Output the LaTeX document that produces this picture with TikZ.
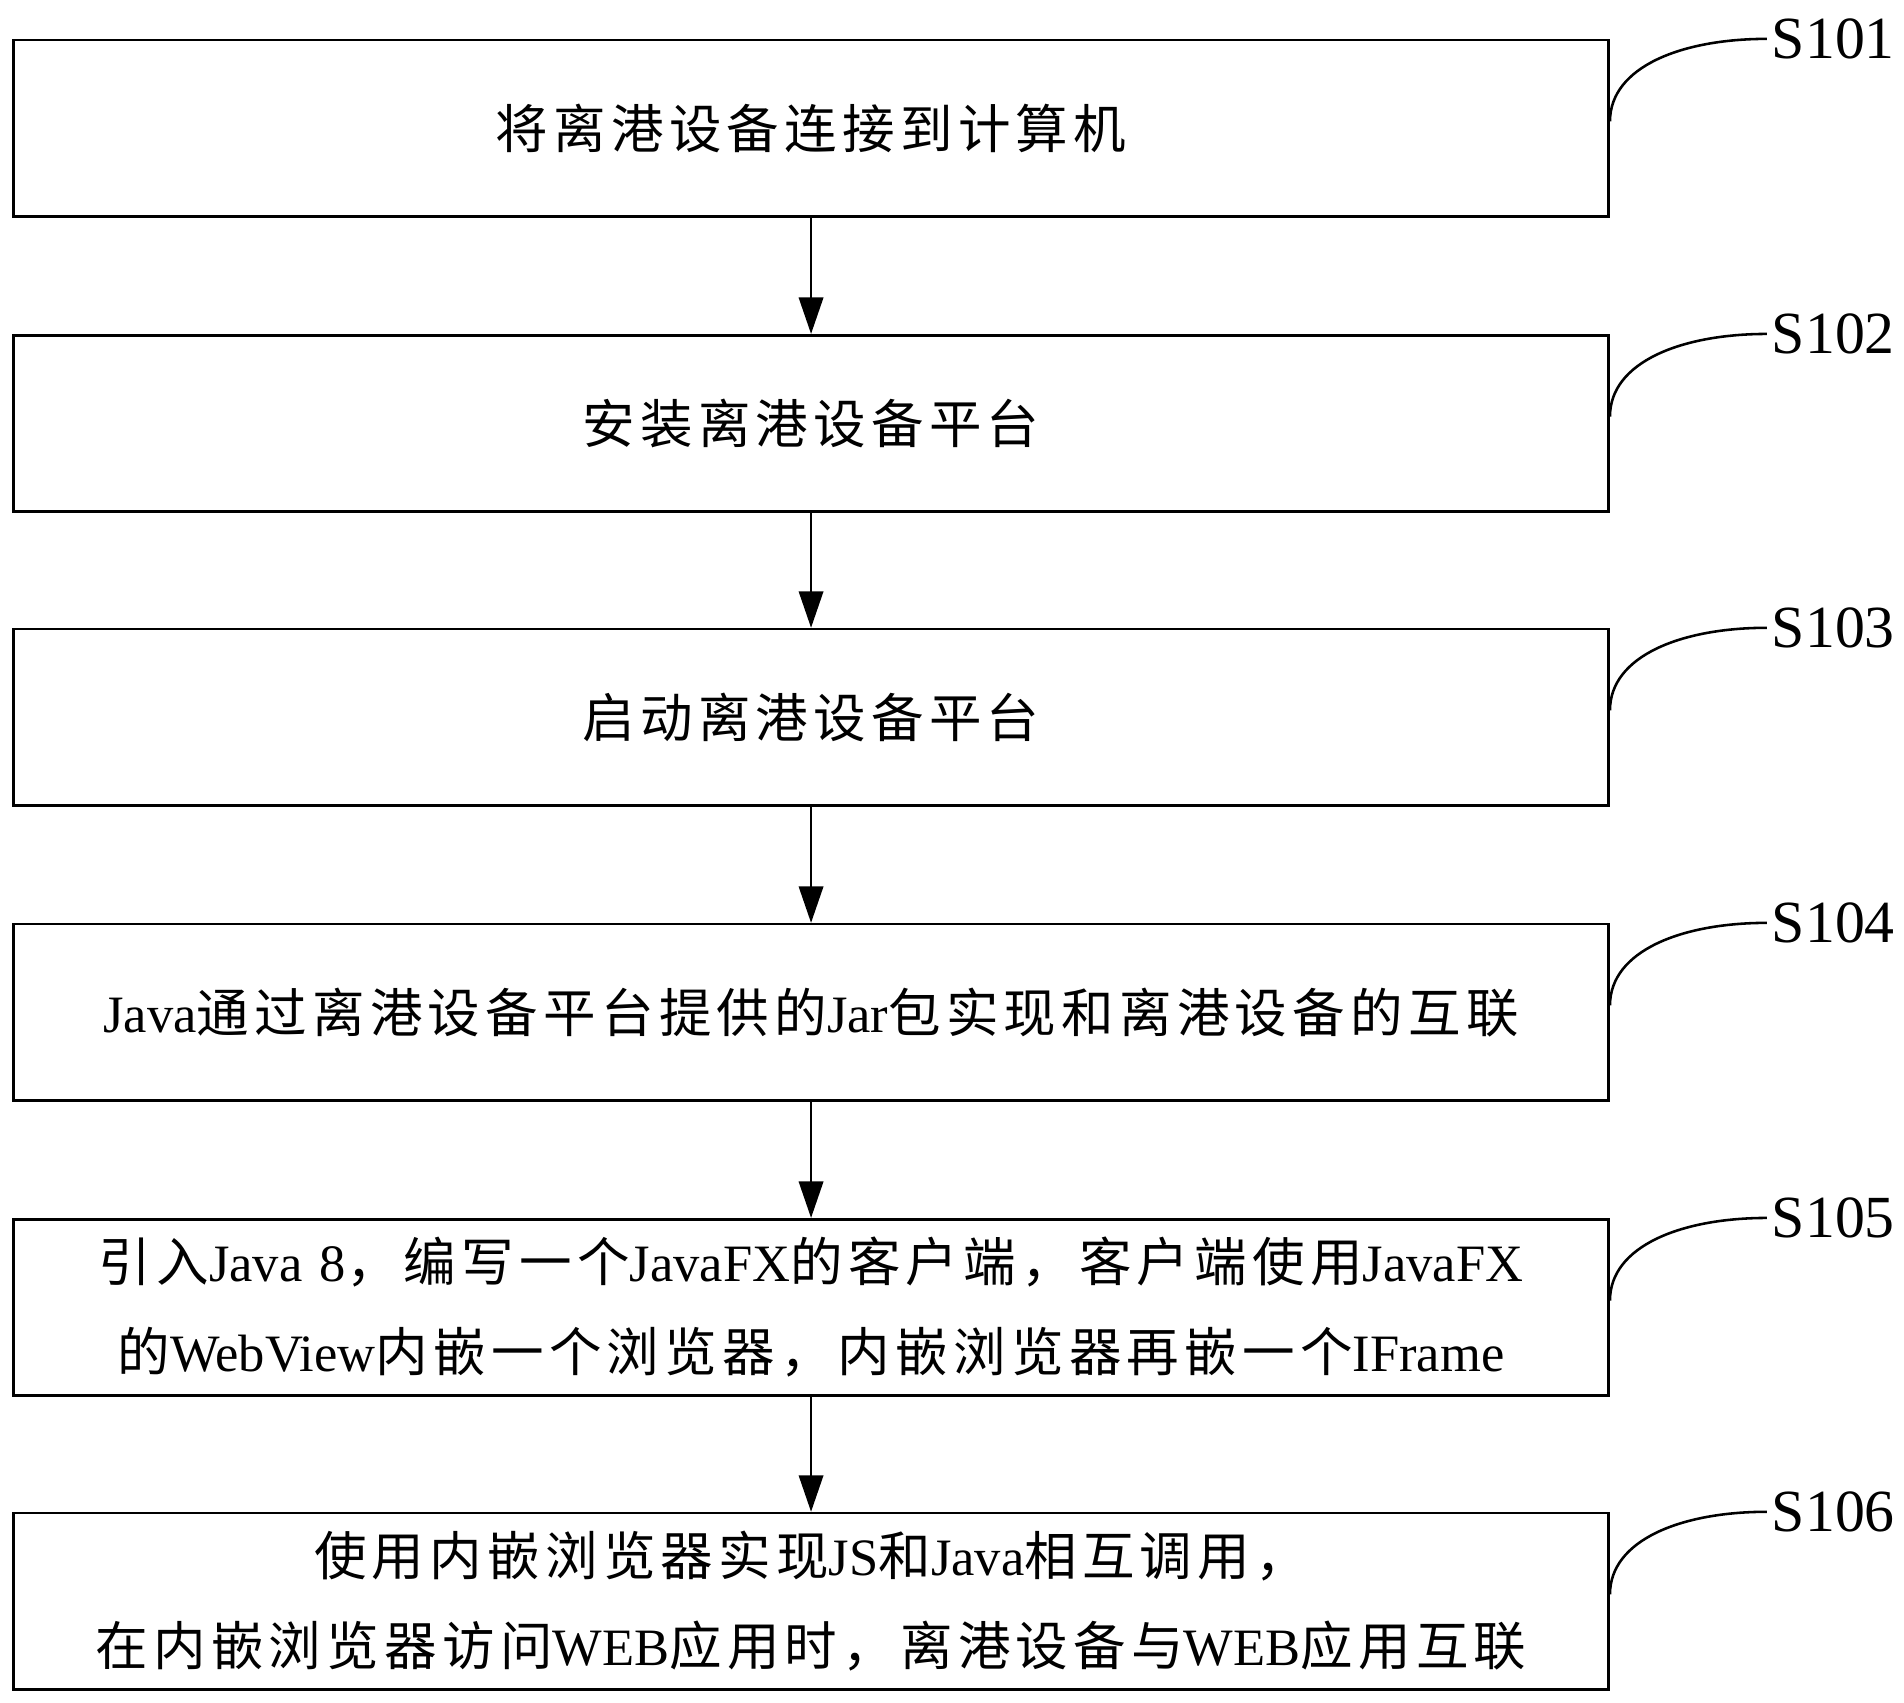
\documentclass[tikz,border=0pt]{standalone}
\usepackage{fontspec}
\setmainfont{Liberation Serif}
\newfontfamily\cjk[LetterSpace=10]{Noto Sans CJK SC}
\usetikzlibrary{arrows.meta}
\newcommand{\C}[1]{{\cjk #1}}
\begin{document}
\begin{tikzpicture}[x=0.01cm,y=-0.01cm,
  stepbox/.style={draw,line width=0.6pt,minimum width=13.13cm,text width=13cm,minimum height=1.45cm,anchor=north west,inner sep=0pt,font=\fontsize{12.3}{21}\selectfont,align=center},
  arr/.style={-{Triangle[length=0.3cm,width=0.2cm]},line width=0.6pt},
  lab/.style={font=\fontsize{14}{16}\selectfont,anchor=west,inner sep=1pt}]
\useasboundingbox (0,0) rectangle (1568,1402);
\node[stepbox] (b1) at (10,32) {\C{将离港设备连接到计算机}};
\node[stepbox] (b2) at (10,275) {\C{安装离港设备平台}};
\node[stepbox] (b3) at (10,517) {\C{启动离港设备平台}};
\node[stepbox] (b4) at (10,760) {Java\C{通过离港设备平台提供的}Jar\C{包实现和离港设备的互联}};
\node[stepbox] (b5) at (10,1003) {\C{引入}Java 8\C{，编写一个}JavaFX\C{的客户端，客户端使用}JavaFX\\\C{的}WebView\C{内嵌一个浏览器，内嵌浏览器再嵌一个}IFrame};
\node[stepbox] (b6) at (10,1245) {\C{使用内嵌浏览器实现}JS\C{和}Java\C{相互调用，}\\\C{在内嵌浏览器访问}WEB\C{应用时，离港设备与}WEB\C{应用互联}};
\foreach \a/\b in {b1/b2,b2/b3,b3/b4,b4/b5,b5/b6} \draw[arr] (\a.south) -- (\b.north);
\foreach \n/\y in {1/32,2/275,3/517,4/760,5/1003,6/1245}{
  \node[lab] (s\n) at (1455,\y) {S10\n};
  \draw[line width=0.6pt] (b\n.north east) ++(0,68) .. controls +(0,-45) and +(-70,0) .. (s\n.west);
}
\end{tikzpicture}
\end{document}
